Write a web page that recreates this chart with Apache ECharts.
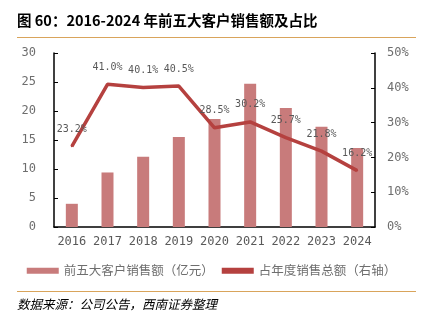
<!DOCTYPE html>
<html><head><meta charset="utf-8">
<script src="https://cdn.jsdelivr.net/npm/echarts@6/dist/echarts.min.js"></script>
<style>html,body{margin:0;padding:0;background:#fff}#c{width:423px;height:324px}</style>
</head><body><div id="c"></div>
<script>
const years = ['2016','2017','2018','2019','2020','2021','2022','2023','2024'];
const sales = [4.0, 9.4, 12.1, 15.5, 18.6, 24.7, 20.5, 17.3, 13.6];
const share = [23.2, 41.0, 40.1, 40.5, 28.5, 30.2, 25.7, 21.8, 16.2];
const leftTicks = [0, 5, 10, 15, 20, 25, 30];
const rightTicks = [0, 10, 20, 30, 40, 50];

const mono = '"DejaVu Sans Mono", monospace';
const chart = echarts.init(document.getElementById('c'));
chart.setOption({
  animation: false,
  graphic: [
    {type:'text', left:17, top:13, style:{text:'图 60：2016-2024 年前五大客户销售额及占比', font:'bold 14.5px "Noto Sans CJK SC", sans-serif', fill:'#000'}},
    {type:'rect', shape:{x:17, y:37, width:399, height:1}, style:{fill:'#d9a45b'}},
    {type:'rect', shape:{x:17, y:291, width:399, height:1}, style:{fill:'#d9a45b'}},
    {type:'text', left:17, top:298, style:{text:'数据来源：公司公告，西南证券整理', font:'italic 12.5px "Noto Sans CJK SC", sans-serif', fill:'#000'}}
  ],
  grid: {left:54, right:48, top:53, bottom:97},
  legend: {
    bottom: 42, left: 'center', itemGap: 8, itemWidth: 32, itemHeight: 6,
    textStyle: {color:'#6e6e6e', fontSize:12.5, fontFamily:'"Noto Sans CJK SC", sans-serif'},
    data: [
      {name:'前五大客户销售额（亿元）', icon:'rect'},
      {name:'占年度销售总额（右轴）', icon:'rect', itemStyle:{color:'#b5413f'}}
    ]
  },
  xAxis: {
    type:'category', data: years, boundaryGap: true,
    axisLine:{lineStyle:{color:'#000', width:1.5}},
    axisTick:{inside:true, length:4, lineStyle:{color:'#000'}},
    axisLabel:{color:'#595959', fontSize:12, fontFamily:mono, margin:9, interval:0}
  },
  yAxis: [
    {type:'value', min:0, max:30, interval:5, splitLine:{show:false},
     axisLine:{show:true, lineStyle:{color:'#000', width:1.5}},
     axisTick:{show:true, inside:true, length:4, lineStyle:{color:'#000'}},
     axisLabel:{color:'#6e6e6e', fontSize:12, fontFamily:mono, margin:18,
       formatter: v => leftTicks.includes(v) ? String(v) : ''}},
    {type:'value', min:0, max:50, interval:10, splitLine:{show:false}, position:'right',
     axisLine:{show:true, lineStyle:{color:'#000', width:1.5}},
     axisTick:{show:true, inside:true, length:4, lineStyle:{color:'#000'}},
     axisLabel:{color:'#6e6e6e', fontSize:12, fontFamily:mono, margin:12,
       formatter: v => rightTicks.includes(v) ? v + '%' : ''}}
  ],
  series: [
    {name:'前五大客户销售额（亿元）', type:'bar', data: sales, barWidth:12,
     itemStyle:{color:'#c87b7b'}},
    {name:'占年度销售总额（右轴）', type:'line', yAxisIndex:1, data: share,
     symbol:'circle', symbolSize:2, showSymbol:true,
     lineStyle:{color:'#b5413f', width:3.5}, itemStyle:{color:'#b5413f'},
     label:{show:true, position:'top', distance:11, color:'#595959', fontSize:10, fontFamily:mono,
       formatter: p => p.value.toFixed(1) + '%'}}
  ]
});
</script></body></html>
